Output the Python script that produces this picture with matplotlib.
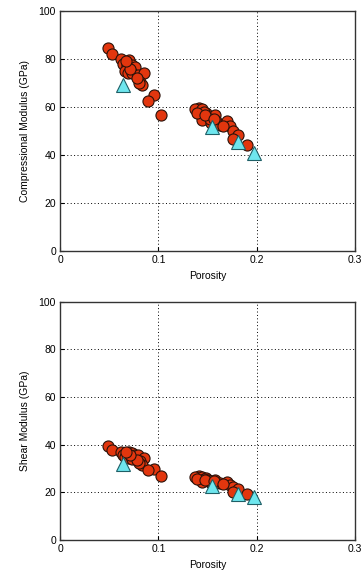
import matplotlib.pyplot as plt

# Measured samples: porosity, compressional and shear moduli (GPa)
porosity = [0.049, 0.053, 0.062, 0.070, 0.064, 0.068, 0.073, 0.076, 0.066,
            0.069, 0.073, 0.079, 0.085, 0.081, 0.083, 0.080, 0.095, 0.089,
            0.103, 0.141, 0.137, 0.144, 0.148, 0.150, 0.144, 0.158, 0.159,
            0.153, 0.163, 0.170, 0.173, 0.176, 0.181, 0.176, 0.190, 0.146,
            0.152, 0.078, 0.071, 0.067, 0.139, 0.147, 0.156, 0.166]
comp_mod = [84.5, 82.0, 80.0, 79.5, 78.0, 77.5, 77.5, 76.5, 75.0,
            74.0, 74.0, 73.5, 74.0, 70.5, 69.0, 70.0, 65.0, 62.5,
            56.7, 59.5, 59.0, 59.0, 57.5, 56.0, 54.6, 56.5, 54.0,
            53.2, 52.5, 54.0, 52.0, 50.0, 48.3, 46.5, 44.0, 58.0,
            55.0, 72.0, 76.0, 79.0, 57.5, 56.5, 55.0, 52.0]
shear_mod = [39.5, 38.0, 37.0, 37.0, 35.5, 36.3, 36.5, 35.8, 35.0,
             34.5, 34.0, 35.5, 34.3, 33.0, 31.5, 32.3, 30.0, 29.5,
             27.0, 26.9, 26.6, 26.4, 26.0, 25.0, 24.5, 25.2, 24.0,
             23.8, 23.8, 24.5, 23.1, 22.4, 21.5, 20.3, 19.3, 25.5,
             24.6, 33.8, 35.6, 36.8, 25.8, 25.3, 24.8, 23.5]

# Model predictions
model_por = [0.064, 0.154, 0.181, 0.197]
model_comp = [69.0, 51.5, 45.3, 40.8]
model_shear = [32.0, 22.5, 19.3, 18.0]

plt.rcParams['font.family'] = ['Liberation Sans', 'DejaVu Sans']
plt.rcParams['font.size'] = 7.5

fig = plt.figure(figsize=(3.62, 5.77), dpi=100)
ax1 = fig.add_axes([0.166, 0.565, 0.815, 0.416])
ax2 = fig.add_axes([0.166, 0.064, 0.815, 0.413])

panels = [(ax1, comp_mod, model_comp, 'Compressional Modulus (GPa)'),
          (ax2, shear_mod, model_shear, 'Shear Modulus (GPa)')]

for ax, meas, model, label in panels:
    ax.plot(porosity, meas, 'o', ms=8, mfc='#e2360e', mec='#2a120a',
            mew=0.8, zorder=3)
    ax.plot(model_por, model, '^', ms=10, mfc='#6ee6ee', mec='#1f5f66',
            mew=0.8, zorder=4)
    ax.set_xlim(0, 0.3)
    ax.set_ylim(0, 100)
    ax.set_xticks([0, 0.1, 0.2, 0.3])
    ax.set_xticklabels(['0', '0.1', '0.2', '0.3'])
    ax.set_yticks([0, 20, 40, 60, 80, 100])
    ax.grid(True, linestyle=(0, (1, 2.5)), color='black', linewidth=0.7)
    ax.tick_params(direction='in', length=3, width=0.8, pad=3)
    for sp in ax.spines.values():
        sp.set_color('#333333')
        sp.set_linewidth(1.0)
    ax.set_xlabel('Porosity', labelpad=4)
    ax.set_ylabel(label, labelpad=6)

fig.savefig('out.png', dpi=100)
